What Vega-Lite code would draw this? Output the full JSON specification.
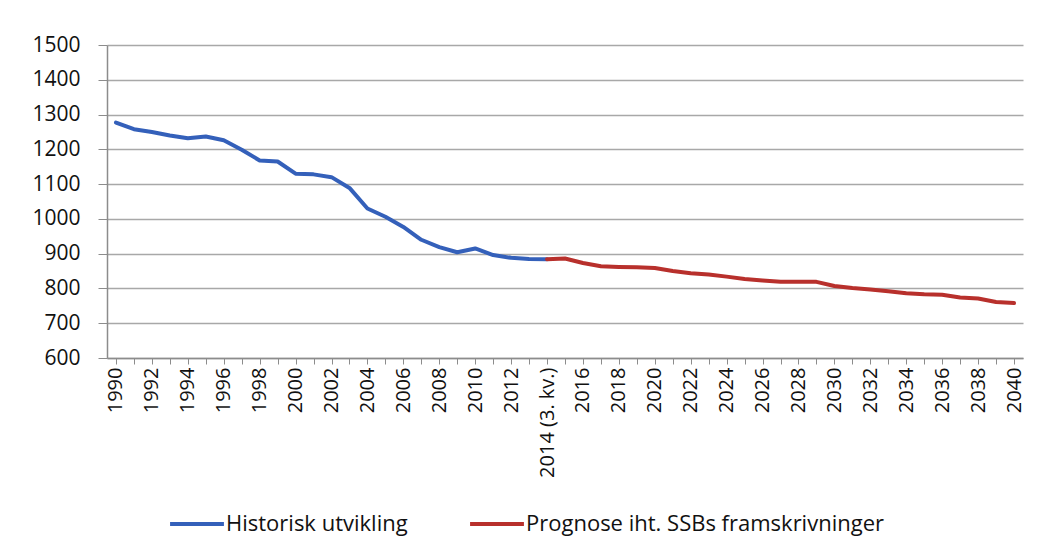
{
  "$schema": "https://vega.github.io/schema/vega-lite/v6.json",
  "width": 916,
  "height": 313,
  "autosize": "none",
  "padding": {"left": 107, "top": 45, "right": 16, "bottom": 195},
  "background": "white",
  "config": {"font": "Open Sans", "view": {"stroke": null}},
  "data": {"values": [
    {"aar": "1990", "verdi": 1277, "serie": "Historisk utvikling"},
    {"aar": "1991", "verdi": 1258, "serie": "Historisk utvikling"},
    {"aar": "1992", "verdi": 1250, "serie": "Historisk utvikling"},
    {"aar": "1993", "verdi": 1240, "serie": "Historisk utvikling"},
    {"aar": "1994", "verdi": 1232, "serie": "Historisk utvikling"},
    {"aar": "1995", "verdi": 1237, "serie": "Historisk utvikling"},
    {"aar": "1996", "verdi": 1226, "serie": "Historisk utvikling"},
    {"aar": "1997", "verdi": 1199, "serie": "Historisk utvikling"},
    {"aar": "1998", "verdi": 1168, "serie": "Historisk utvikling"},
    {"aar": "1999", "verdi": 1165, "serie": "Historisk utvikling"},
    {"aar": "2000", "verdi": 1130, "serie": "Historisk utvikling"},
    {"aar": "2001", "verdi": 1128, "serie": "Historisk utvikling"},
    {"aar": "2002", "verdi": 1120, "serie": "Historisk utvikling"},
    {"aar": "2003", "verdi": 1089, "serie": "Historisk utvikling"},
    {"aar": "2004", "verdi": 1030, "serie": "Historisk utvikling"},
    {"aar": "2005", "verdi": 1006, "serie": "Historisk utvikling"},
    {"aar": "2006", "verdi": 977, "serie": "Historisk utvikling"},
    {"aar": "2007", "verdi": 940, "serie": "Historisk utvikling"},
    {"aar": "2008", "verdi": 919, "serie": "Historisk utvikling"},
    {"aar": "2009", "verdi": 904, "serie": "Historisk utvikling"},
    {"aar": "2010", "verdi": 915, "serie": "Historisk utvikling"},
    {"aar": "2011", "verdi": 896, "serie": "Historisk utvikling"},
    {"aar": "2012", "verdi": 888, "serie": "Historisk utvikling"},
    {"aar": "2013", "verdi": 885, "serie": "Historisk utvikling"},
    {"aar": "2014 (3. kv.)", "verdi": 884, "serie": "Historisk utvikling"},
    {"aar": "2014 (3. kv.)", "verdi": 884, "serie": "Prognose iht. SSBs framskrivninger"},
    {"aar": "2015", "verdi": 886, "serie": "Prognose iht. SSBs framskrivninger"},
    {"aar": "2016", "verdi": 873, "serie": "Prognose iht. SSBs framskrivninger"},
    {"aar": "2017", "verdi": 864, "serie": "Prognose iht. SSBs framskrivninger"},
    {"aar": "2018", "verdi": 862, "serie": "Prognose iht. SSBs framskrivninger"},
    {"aar": "2019", "verdi": 861, "serie": "Prognose iht. SSBs framskrivninger"},
    {"aar": "2020", "verdi": 859, "serie": "Prognose iht. SSBs framskrivninger"},
    {"aar": "2021", "verdi": 850, "serie": "Prognose iht. SSBs framskrivninger"},
    {"aar": "2022", "verdi": 844, "serie": "Prognose iht. SSBs framskrivninger"},
    {"aar": "2023", "verdi": 840, "serie": "Prognose iht. SSBs framskrivninger"},
    {"aar": "2024", "verdi": 834, "serie": "Prognose iht. SSBs framskrivninger"},
    {"aar": "2025", "verdi": 827, "serie": "Prognose iht. SSBs framskrivninger"},
    {"aar": "2026", "verdi": 823, "serie": "Prognose iht. SSBs framskrivninger"},
    {"aar": "2027", "verdi": 819, "serie": "Prognose iht. SSBs framskrivninger"},
    {"aar": "2028", "verdi": 819, "serie": "Prognose iht. SSBs framskrivninger"},
    {"aar": "2029", "verdi": 819, "serie": "Prognose iht. SSBs framskrivninger"},
    {"aar": "2030", "verdi": 807, "serie": "Prognose iht. SSBs framskrivninger"},
    {"aar": "2031", "verdi": 801, "serie": "Prognose iht. SSBs framskrivninger"},
    {"aar": "2032", "verdi": 797, "serie": "Prognose iht. SSBs framskrivninger"},
    {"aar": "2033", "verdi": 792, "serie": "Prognose iht. SSBs framskrivninger"},
    {"aar": "2034", "verdi": 786, "serie": "Prognose iht. SSBs framskrivninger"},
    {"aar": "2035", "verdi": 783, "serie": "Prognose iht. SSBs framskrivninger"},
    {"aar": "2036", "verdi": 782, "serie": "Prognose iht. SSBs framskrivninger"},
    {"aar": "2037", "verdi": 774, "serie": "Prognose iht. SSBs framskrivninger"},
    {"aar": "2038", "verdi": 771, "serie": "Prognose iht. SSBs framskrivninger"},
    {"aar": "2039", "verdi": 761, "serie": "Prognose iht. SSBs framskrivninger"},
    {"aar": "2040", "verdi": 758, "serie": "Prognose iht. SSBs framskrivninger"}
  ]},
  "mark": {"type": "line", "strokeWidth": 4, "strokeCap": "round", "strokeJoin": "round"},
  "encoding": {
    "x": {
      "field": "aar",
      "type": "ordinal",
      "sort": null,
      "scale": {"type": "point", "padding": 0.5},
      "axis": {
        "title": null,
        "labelAngle": -90,
        "labelFontSize": 20,
        "labelColor": "#111111",
        "labelPadding": 3,
        "labelExpr": "toNumber(slice(datum.value, 0, 4)) % 2 == 0 ? datum.value : ''",
        "tickSize": 6,
        "tickColor": "#8c8c8c",
        "domainColor": "#8c8c8c",
        "domainWidth": 1.5,
        "grid": false
      }
    },
    "y": {
      "field": "verdi",
      "type": "quantitative",
      "scale": {"domain": [600, 1500], "nice": false, "zero": false},
      "axis": {
        "title": null,
        "format": "d",
        "values": [600, 700, 800, 900, 1000, 1100, 1200, 1300, 1400, 1500],
        "labelFontSize": 21,
        "labelColor": "#111111",
        "labelPadding": 18,
        "tickSize": 9,
        "tickColor": "#8c8c8c",
        "domainColor": "#8c8c8c",
        "domainWidth": 1.5,
        "gridColor": "#a8a8a8",
        "gridWidth": 1.5
      }
    },
    "color": {
      "field": "serie",
      "type": "nominal",
      "scale": {
        "domain": ["Historisk utvikling", "Prognose iht. SSBs framskrivninger"],
        "range": ["#3460ba", "#b8302c"]
      },
      "legend": {
        "orient": "none",
        "legendX": 61,
        "legendY": 450,
        "direction": "horizontal",
        "title": null,
        "symbolType": "stroke",
        "symbolSize": 2900,
        "symbolStrokeWidth": 4,
        "labelFontSize": 22,
        "labelColor": "#111111",
        "labelOffset": 0,
        "columnPadding": 54,
        "labelLimit": 500
      }
    }
  }
}
